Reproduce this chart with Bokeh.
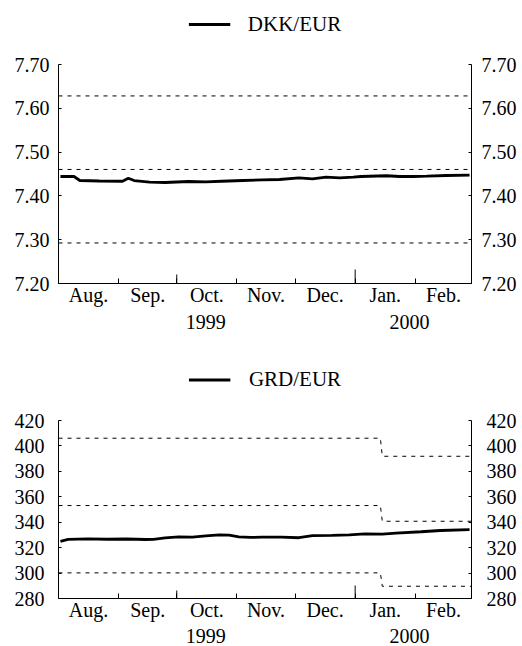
import pandas as pd
from bokeh.plotting import figure
from bokeh.models import Range1d, LinearAxis, FixedTicker, Legend, LegendItem
from bokeh.core.properties import value
from bokeh.layouts import column
from bokeh.embed import file_html
from bokeh.resources import INLINE

# ---------------- data ----------------
ORIGIN = "1999-08-01"
month_starts = ["1999-08-01", "1999-09-01", "1999-10-01", "1999-11-01",
                "1999-12-01", "2000-01-01", "2000-02-01", "2000-03-01"]
month_labels = ["Aug.", "Sep.", "Oct.", "Nov.", "Dec.", "Jan.", "Feb."]
year_labels = ["1999", "2000"]
year_label_dates = ["1999-10-16", "2000-01-29"]
long_tick_dates = ["1999-10-01", "2000-01-01"]

dkk_dates = ["1999-08-02", "1999-08-09", "1999-08-12", "1999-08-22", "1999-09-03",
             "1999-09-06", "1999-09-09", "1999-09-17", "1999-09-25", "1999-10-07",
             "1999-10-16", "1999-10-24", "1999-11-04", "1999-11-14", "1999-11-23",
             "1999-12-03", "1999-12-10", "1999-12-17", "1999-12-24", "1999-12-31",
             "2000-01-04", "2000-01-17", "2000-01-24", "2000-01-31", "2000-02-07",
             "2000-02-17", "2000-02-29"]
dkk_values = [7.4443, 7.4443, 7.4352, 7.4340, 7.4335,
              7.4404, 7.4350, 7.4313, 7.4306, 7.4329,
              7.4320, 7.4334, 7.4352, 7.4367, 7.4374,
              7.4410, 7.4390, 7.4427, 7.4410, 7.4427,
              7.4443, 7.4460, 7.4443, 7.4443, 7.4450,
              7.4466, 7.4473]
dkk_band_dates = ["1999-08-01", "2000-03-01"]
dkk_upper = [7.62824, 7.62824]
dkk_central = [7.46038, 7.46038]
dkk_lower = [7.29252, 7.29252]
dkk_ticks = [7.20, 7.30, 7.40, 7.50, 7.60, 7.70]
dkk_tick_labels = ["7.20", "7.30", "7.40", "7.50", "7.60", "7.70"]

grd_dates = ["1999-08-02", "1999-08-06", "1999-08-16", "1999-08-26", "1999-09-05",
             "1999-09-15", "1999-09-19", "1999-09-25", "1999-10-02", "1999-10-09",
             "1999-10-16", "1999-10-23", "1999-10-28", "1999-11-02", "1999-11-08",
             "1999-11-14", "1999-11-24", "1999-12-03", "1999-12-10", "1999-12-20",
             "1999-12-29", "2000-01-06", "2000-01-15", "2000-01-22", "2000-02-04",
             "2000-02-14", "2000-02-29"]
grd_values = [325.0, 326.5, 326.9, 326.6, 326.8,
              326.4, 326.5, 327.7, 328.4, 328.3,
              329.3, 330.0, 329.8, 328.4, 328.0,
              328.2, 328.2, 327.8, 329.4, 329.6,
              330.1, 330.8, 330.6, 331.4, 332.5,
              333.5, 334.2]
grd_band_dates = ["1999-08-01", "2000-01-14", "2000-01-15", "2000-03-01"]
grd_upper = [406.075, 406.075, 391.863, 391.863]
grd_central = [353.109, 353.109, 340.750, 340.750]
grd_lower = [300.143, 300.143, 289.638, 289.638]
grd_ticks = [280, 300, 320, 340, 360, 380, 400, 420]
grd_tick_labels = ["280", "300", "320", "340", "360", "380", "400", "420"]

# ---------------- helpers ----------------
T0 = pd.Timestamp(ORIGIN)


def days(lst):
    return [float((pd.Timestamp(d) - T0).days) for d in lst]


FONT = "'Liberation Serif', 'Times New Roman', 'DejaVu Serif', serif"
TICK_FS = "20px"
LEG_FS = "21px"
BORDER_L, FRAME_W, BORDER_R = 58, 413, 51
X_LO, X_HI = days(month_starts)[0], days(month_starts)[-1]
LINE_W = 2.8


def strip(height):
    """A frame-only strip used for legend / year-label rows."""
    s = figure(frame_width=FRAME_W, frame_height=height,
               x_range=Range1d(X_LO, X_HI), y_range=Range1d(0, height),
               x_axis_type=None, y_axis_type=None,
               output_backend="svg", toolbar_location=None,
               min_border_left=BORDER_L, min_border_right=BORDER_R,
               min_border_top=0, min_border_bottom=0)
    s.outline_line_color = None
    return s


def add_legend(s, name, dates, values, location, margin, standoff):
    # the series is attached on a range that keeps it out of this strip's view,
    # only its legend sample is shown here
    s.extra_y_ranges = {"offview": Range1d(1e6, 2e6)}
    r = s.line(days(dates), values, line_color="black", line_width=LINE_W,
               y_range_name="offview")
    leg = Legend(items=[LegendItem(label=name, renderers=[r])],
                 location=location, orientation="horizontal",
                 glyph_width=42, glyph_height=23, label_height=23,
                 label_standoff=standoff, padding=0, margin=margin, spacing=0,
                 border_line_alpha=0, background_fill_alpha=0,
                 label_text_font=FONT, label_text_font_size=LEG_FS,
                 label_text_color="black")
    s.add_layout(leg)


def add_years(s, center_y):
    s.text(x=days(year_label_dates), y=[center_y] * len(year_labels),
           text=year_labels, text_align="center", text_baseline="middle",
           text_font=value(FONT), text_font_size=value(TICK_FS),
           text_color="black")


def panel(dates, values, bands, ylo, yhi, ticks, tick_labels,
          frame_h, top, bottom, std_left, std_right, long_px):
    starts = days(month_starts)
    p = figure(frame_width=FRAME_W, frame_height=frame_h,
               x_range=Range1d(X_LO, X_HI), y_range=Range1d(ylo, yhi),
               x_axis_type=None, y_axis_type=None,
               output_backend="svg", toolbar_location=None,
               min_border_left=BORDER_L, min_border_right=BORDER_R,
               min_border_top=top, min_border_bottom=bottom)
    p.outline_line_color = None

    for bd, bv in bands:
        p.line(days(bd), bv, line_color="black", line_width=1, line_dash="4 5")

    p.line(days(dates), values, line_color="black", line_width=LINE_W)

    mids = [(a + b) / 2 for a, b in zip(starts[:-1], starts[1:])]
    xa = LinearAxis(ticker=FixedTicker(ticks=mids, minor_ticks=starts),
                    major_label_overrides={m: l for m, l in zip(mids, month_labels)},
                    major_tick_in=0, major_tick_out=0,
                    minor_tick_in=5, minor_tick_out=0,
                    minor_tick_line_color="black",
                    axis_line_color="black", axis_line_width=1,
                    major_label_standoff=0,
                    major_label_text_font=FONT,
                    major_label_text_font_size=TICK_FS,
                    major_label_text_color="black")
    p.add_layout(xa, "below")

    span = (yhi - ylo) / frame_h
    lt = days(long_tick_dates)
    p.segment(x0=lt, x1=lt, y0=[ylo, ylo],
              y1=[ylo + long_px[0] * span, ylo + long_px[1] * span],
              line_color="black", line_width=1)

    for side, std in (("left", std_left), ("right", std_right)):
        ya = LinearAxis(ticker=FixedTicker(ticks=ticks),
                        major_label_overrides={t: l for t, l in zip(ticks, tick_labels)},
                        major_tick_in=3, major_tick_out=0,
                        major_tick_line_color="black",
                        axis_line_color="black", axis_line_width=1,
                        major_label_standoff=std,
                        major_label_text_font=FONT,
                        major_label_text_font_size=TICK_FS,
                        major_label_text_color="black")
        p.add_layout(ya, side)
    return p


# row 1: DKK legend
legA = strip(47)
add_legend(legA, "DKK/EUR", dkk_dates, dkk_values, "center", 0, 18)

# row 2: DKK panel
p1 = panel(dkk_dates, dkk_values,
           [(dkk_band_dates, dkk_upper), (dkk_band_dates, dkk_central),
            (dkk_band_dates, dkk_lower)],
           7.20, 7.70, dkk_ticks, dkk_tick_labels,
           frame_h=219, top=17, bottom=26,
           std_left=9, std_right=10, long_px=(9, 14))

# row 3: year labels of the DKK panel + GRD legend
rowB = strip(91)
add_years(rowB, 91 - 12)
add_legend(rowB, "GRD/EUR", grd_dates, grd_values, "bottom_center", 8, 19)

# row 4: GRD panel
p2 = panel(grd_dates, grd_values,
           [(grd_band_dates, grd_upper), (grd_band_dates, grd_central),
            (grd_band_dates, grd_lower)],
           280, 420, grd_ticks, grd_tick_labels,
           frame_h=178, top=20, bottom=26,
           std_left=14, std_right=15, long_px=(8, 13))

# row 5: year labels of the GRD panel
rowC = strip(22)
add_years(rowC, 11)

layout = column(legA, p1, rowB, p2, rowC, spacing=0)
open("out.html", "w").write(file_html(layout, INLINE))
